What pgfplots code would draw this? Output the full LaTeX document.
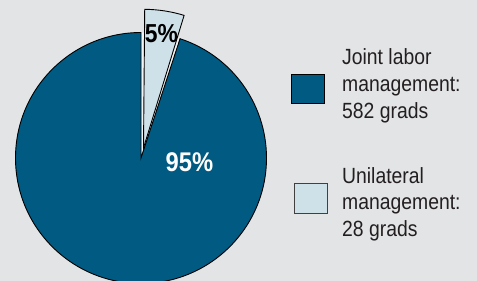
\documentclass[border=0pt]{standalone}
\usepackage{pgfplots}
\pgfplotsset{compat=1.18}
\usepackage{pgfplotstable}
\usepackage{fontspec}
\setmainfont{Liberation Sans}[FakeStretch=0.88]
\definecolor{bg}{HTML}{E3E4E6}
\definecolor{darkblue}{HTML}{005A82}
\definecolor{lightblue}{HTML}{CFE1E8}
\definecolor{txt}{HTML}{231F20}

\pgfplotstableread{
label value
Joint 582
Unilateral 28
}\piedata

\begin{document}
\begin{tikzpicture}
\pgfplotstablegetelem{0}{value}\of\piedata \let\va\pgfplotsretval
\pgfplotstablegetelem{1}{value}\of\piedata \let\vb\pgfplotsretval
\pgfmathsetmacro\angB{360*\vb/(\va+\vb)}
\pgfmathsetmacro\gapEnd{90-\angB-1.6}
\pgfmathsetmacro\bigEnd{360+\gapEnd}
\pgfmathsetmacro\sStart{89.5-\angB}
\begin{axis}[x=1pt,y=1pt,xmin=0,xmax=477,ymin=0,ymax=281,hide axis,
  at={(0,0)},anchor=south west,clip=true]
\coordinate (BL) at (axis cs:0,0);
\coordinate (TR) at (axis cs:477,281);
\fill[bg] (axis cs:0,0) rectangle (axis cs:477,281);
% gap wedge
\fill[white!55!bg] (axis cs:141,123) -- ++(90:125.5pt) arc[start angle=90,end angle=\gapEnd,radius=125.5pt] -- cycle;
% big slice
\filldraw[fill=darkblue,draw=black,line width=0.9pt] (axis cs:141,123) -- ++(90:125.5pt) arc[start angle=90,end angle=\bigEnd,radius=125.5pt] -- cycle;
% small exploded slice
\filldraw[fill=lightblue,draw=black,line width=0.9pt] (axis cs:143.5,133) -- ++(\sStart:138.7pt) arc[start angle=\sStart,end angle=89.5,radius=138.7pt] -- cycle;
% labels
\node[anchor=base,inner sep=0,font=\fontsize{26}{26}\selectfont\bfseries,text=black] at (axis cs:161.5,238) {5\%};
\node[anchor=base,inner sep=0,font=\fontsize{27}{27}\selectfont\bfseries,text=white] at (axis cs:189.5,109) {95\%};
% legend
\filldraw[fill=darkblue,draw=black,line width=0.9pt] (axis cs:291,207) rectangle (axis cs:324,178);
\filldraw[fill=lightblue,draw=black!75,line width=0.9pt] (axis cs:294,98) rectangle (axis cs:327,68);
\tikzset{legtxt/.style={anchor=base west,inner sep=0,font=\fontsize{22}{22}\selectfont,text=txt}}
\node[legtxt] at (axis cs:342,216) {Joint labor};
\node[legtxt] at (axis cs:342,189) {management:};
\node[legtxt] at (axis cs:342,162.7) {582 grads};
\node[legtxt] at (axis cs:342,97.5) {Unilateral};
\node[legtxt] at (axis cs:342,71) {management:};
\node[legtxt] at (axis cs:342,44.5) {28 grads};
\end{axis}
\pgfresetboundingbox
\path[use as bounding box] (BL) rectangle (TR);
\end{tikzpicture}
\end{document}
